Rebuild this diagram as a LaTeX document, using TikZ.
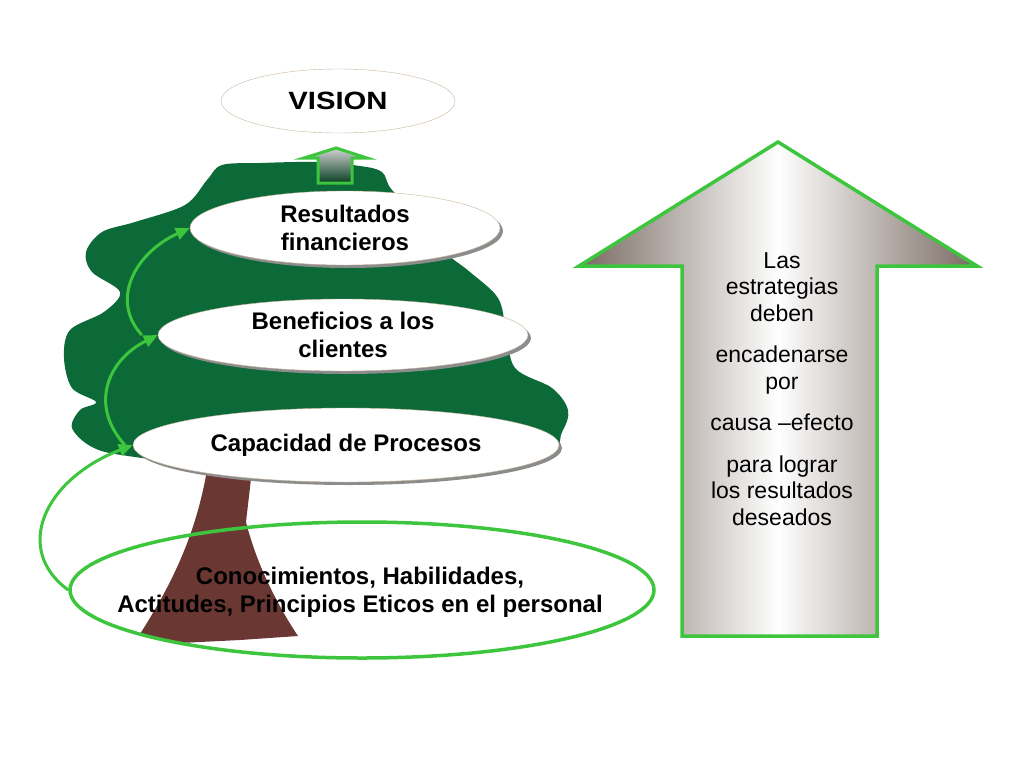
\documentclass[tikz,border=0pt]{standalone}
\usepackage{fontspec}
\setmainfont{Liberation Sans}
\usetikzlibrary{shapes.geometric,shadows,arrows.meta}

\definecolor{leaf}{HTML}{0B6A37}
\definecolor{bark}{HTML}{6A3733}
\definecolor{lime}{HTML}{3DC63D}
\definecolor{rim}{HTML}{C9B49C}
\definecolor{steel}{HTML}{786A62}

\begin{document}
\begin{tikzpicture}[x=1pt,y=-1pt]
\useasboundingbox (0,0) rectangle (1024,768);

      % tree
      \fill[leaf] plot[smooth cycle, tension=0.55] coordinates {
        (207,180) (222,165) (260,163) (316,162) (360,166) (382,172)
        (392,190) (425,220) (440,248) (470,272) (498,298) (506,330)
        (515,368) (552,388) (568,410) (562,432) (540,462) (400,472)
        (250,470) (128,456) (92,447) (72,428) (80,410) (96,402)
        (72,388) (64,358) (70,330) (104,312) (120,292) (92,272)
        (86,252) (102,232) (135,222) (185,205)};
      \fill[bark] (207,470) -- (252,470) -- (246,522)
        .. controls (258,570) and (282,612) .. (298,636)
        -- (240,640) -- (180,643) -- (140,634)
        .. controls (168,590) and (195,540) .. (207,470) -- cycle;
      \draw[lime, line width=3pt, top color=gray!35, bottom color=leaf!60!black]
        (336,148) -- (367,158) -- (352,158) -- (352,183) -- (318,183)
        -- (318,158) -- (304,158) -- cycle;

      \begin{scope}[every node/.style={ellipse,draw=rim,fill=white,inner sep=0pt,align=center,
          font=\bfseries\fontsize{24}{28}\selectfont,
          drop shadow={shadow xshift=3pt,shadow yshift=-3pt,fill=black!45,opacity=1}}]
        \node[minimum width=310pt,minimum height=74pt] (res) at (345,228) {Resultados\\financieros};
        \node[minimum width=370pt,minimum height=72pt] (ben) at (343,335) {Beneficios a los\\clientes};
        \node[minimum width=426pt,minimum height=74pt] (cap) at (346,445) {Capacidad de Procesos};
      \end{scope}

      \node[ellipse,draw=lime,line width=3.5pt,minimum width=584pt,minimum height=136pt] (con) at (362,590) {};
      \node[font=\bfseries\fontsize{24}{28}\selectfont,align=center] (contxt) at (360,592)
        {Conocimientos, Habilidades,\\Actitudes, Principios Eticos en el personal};

      \begin{scope}[lime,line width=3pt,-{Triangle[length=14pt,width=12pt]}]
        \draw ([xshift=-8pt]cap.west) .. controls +(-36,-40) and +(-50,25) .. (ben.west);
        \draw ([xshift=-16pt]ben.west) .. controls +(-32,-35) and +(-55,25) .. (res.west);
        \draw (con.west) .. controls +(-55,-40) and +(-90,35) .. (cap.west);
      \end{scope}

      \node[ellipse,draw=rim,fill=white,minimum width=234pt,minimum height=64pt,
        font=\bfseries\fontsize{25}{30}\selectfont] (vision) at (338,101) {\scalebox{1.17}[1]{VISION}};

      % big arrow
      \draw[lime, line width=3.5pt, left color=steel, right color=steel, middle color=white]
        (778,142) -- (977,266) -- (877,266) -- (877,636) -- (682,636)
        -- (682,266) -- (579,266) -- cycle;
      \node[font=\fontsize{23}{26.5}\selectfont,align=center] (why) at (782,389)
        {Las\\estrategias\\deben\\[15pt]encadenarse\\por\\[15pt]causa –efecto\\[15pt]para lograr\\los resultados\\deseados};

\end{tikzpicture}
\end{document}
